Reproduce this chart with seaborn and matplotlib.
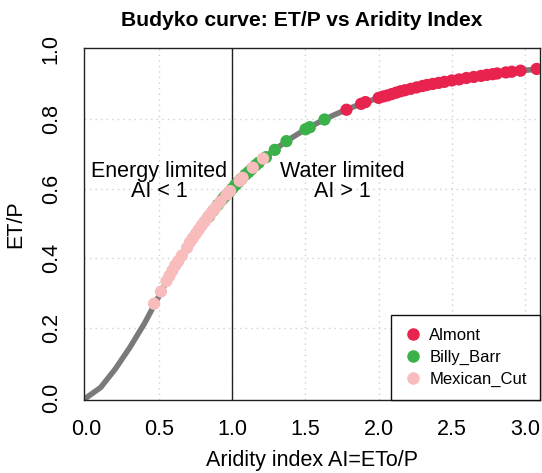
import numpy as np
import pandas as pd
import matplotlib
matplotlib.use("Agg")
import matplotlib.pyplot as plt
from matplotlib.lines import Line2D
import seaborn as sns

# Budyko reference curve (aridity index vs evaporative index)
curve_ai = [0.0, 0.1, 0.2, 0.3, 0.4, 0.5, 0.6, 0.7, 0.8, 0.9, 1.0, 1.1, 1.2,
            1.3, 1.4, 1.5, 1.6, 1.7, 1.8, 1.9, 2.0, 2.2, 2.4, 2.6, 2.8, 3.0, 3.2]
curve_etp = [0.0, 0.030, 0.083, 0.145, 0.214, 0.293, 0.375, 0.440, 0.500, 0.553,
             0.600, 0.643, 0.682, 0.715, 0.744, 0.770, 0.792, 0.812, 0.830,
             0.846, 0.860, 0.884, 0.902, 0.917, 0.929, 0.939, 0.947]

# Site observations
almont_ai = [1.78, 1.88, 1.91, 2.00, 2.03, 2.06, 2.09, 2.12, 2.15, 2.18, 2.22,
             2.26, 2.30, 2.33, 2.37, 2.41, 2.45, 2.50, 2.55, 2.60, 2.65, 2.70,
             2.74, 2.78, 2.81, 2.87, 2.91, 2.97, 3.08]
almont_etp = [0.826, 0.843, 0.848, 0.860, 0.864, 0.867, 0.871, 0.875, 0.879,
              0.882, 0.886, 0.890, 0.894, 0.897, 0.900, 0.903, 0.906, 0.910,
              0.913, 0.917, 0.920, 0.923, 0.926, 0.928, 0.930, 0.933, 0.935,
              0.938, 0.943]

billy_ai = [0.84, 0.87, 0.90, 0.93, 0.95, 0.98, 1.00, 1.02, 1.04, 1.06, 1.09,
            1.11, 1.13, 1.16, 1.18, 1.23, 1.29, 1.37, 1.50, 1.53, 1.63]
billy_etp = [0.520, 0.537, 0.553, 0.568, 0.578, 0.590, 0.600, 0.610, 0.618,
             0.627, 0.640, 0.647, 0.655, 0.667, 0.674, 0.690, 0.711, 0.736,
             0.770, 0.776, 0.798]

mexican_ai = [0.465, 0.512, 0.55, 0.57, 0.59, 0.61, 0.63, 0.655, 0.69, 0.71,
              0.73, 0.75, 0.77, 0.79, 0.81, 0.83, 0.85, 0.87, 0.89, 0.92,
              0.96, 0.985, 1.05, 1.07, 1.14, 1.21]
mexican_etp = [0.270, 0.305, 0.335, 0.350, 0.365, 0.380, 0.392, 0.408, 0.430,
               0.446, 0.458, 0.470, 0.482, 0.494, 0.505, 0.516, 0.527, 0.537,
               0.548, 0.563, 0.583, 0.593, 0.622, 0.631, 0.660, 0.686]

sites = ["Almont", "Billy_Barr", "Mexican_Cut"]
site_colors = {"Almont": "#E8244E", "Billy_Barr": "#3BB149", "Mexican_Cut": "#F8BCBC"}

curve = pd.DataFrame({"AI": curve_ai, "ETP": curve_etp})
obs = pd.concat([
    pd.DataFrame({"AI": almont_ai, "ETP": almont_etp, "site": "Almont"}),
    pd.DataFrame({"AI": billy_ai, "ETP": billy_etp, "site": "Billy_Barr"}),
    pd.DataFrame({"AI": mexican_ai, "ETP": mexican_etp, "site": "Mexican_Cut"}),
], ignore_index=True)

sns.set_style("white")
plt.rcParams["font.family"] = ["Liberation Sans", "DejaVu Sans"]
plt.rcParams["text.color"] = "black"
plt.rcParams["axes.labelcolor"] = "black"

fig = plt.figure(figsize=(5.42, 4.73), dpi=100)
ax = fig.add_axes([84 / 542, 1 - 400 / 473, 456 / 542, 352 / 473])

ax.set_xlim(-0.014, 3.103)
ax.set_ylim(-0.006, 1.003)

# dotted grid
for gx in [0.5, 1.0, 1.5, 2.0, 2.5, 3.0]:
    ax.axvline(gx, color="#cfcfcf", lw=1, ls=(0, (1, 3)), zorder=0)
for gy in [0.2, 0.4, 0.6, 0.8]:
    ax.axhline(gy, color="#cfcfcf", lw=1, ls=(0, (1, 3)), zorder=0)

sns.lineplot(data=curve, x="AI", y="ETP", ax=ax, color="#7a7a7a", lw=4,
             zorder=2, sort=False)
ax.axvline(1.0, color="#222222", lw=1, zorder=1)

sns.scatterplot(data=obs, x="AI", y="ETP", hue="site", hue_order=sites,
                palette=site_colors, s=78, linewidth=0, ax=ax, zorder=3,
                legend=False)

ax.text(0.5, 0.62, "Energy limited\nAI < 1", ha="center", va="center",
        fontsize=15.5, linespacing=0.95, color="black")
ax.text(1.75, 0.62, "Water limited\nAI > 1", ha="center", va="center",
        fontsize=15.5, linespacing=0.95, color="black")

ax.set_xticks([0.0, 0.5, 1.0, 1.5, 2.0, 2.5, 3.0])
ax.set_xticklabels(["0.0", "0.5", "1.0", "1.5", "2.0", "2.5", "3.0"])
ax.set_yticks([0.0, 0.2, 0.4, 0.6, 0.8, 1.0])
ax.set_yticklabels(["0.0", "0.2", "0.4", "0.6", "0.8", "1.0"], rotation=90,
                   va="center")
ax.tick_params(axis="both", direction="out", length=6, width=1,
               color="#333333", labelsize=15.5, labelcolor="black")
ax.tick_params(axis="x", pad=8)
ax.tick_params(axis="y", pad=10)

for sp in ax.spines.values():
    sp.set_visible(True)
    sp.set_color("#222222")
    sp.set_linewidth(1)

ax.set_xlabel("Aridity index AI=ETo/P", fontsize=15.5, color="black")
ax.set_ylabel("ET/P", fontsize=15.5, color="black")
ax.xaxis.set_label_coords((312 - 84) / 456, -(460 - 400) / 352)
ax.xaxis.label.set_va("center")
ax.yaxis.set_label_coords(-(84 - 16) / 456, (400 - 224) / 352)
ax.yaxis.label.set_va("center")

fig.text(302 / 542, 1 - 20 / 473, "Budyko curve: ET/P vs Aridity Index",
         ha="center", va="center", fontsize=15.2, fontweight="bold",
         color="black")

handles = [Line2D([], [], marker="o", ls="none", color=site_colors[s],
                  markersize=8) for s in sites]
leg = ax.legend(handles, sites, loc="lower right", fontsize=12,
                frameon=True, fancybox=False, borderaxespad=0,
                handlelength=1.0, handletextpad=0.5, labelspacing=0.4,
                borderpad=0.8)
for t in leg.get_texts():
    t.set_color("black")
leg.get_frame().set_edgecolor("#111111")
leg.get_frame().set_linewidth(1)
leg.get_frame().set_alpha(1)

fig.savefig("out.png", dpi=100)
